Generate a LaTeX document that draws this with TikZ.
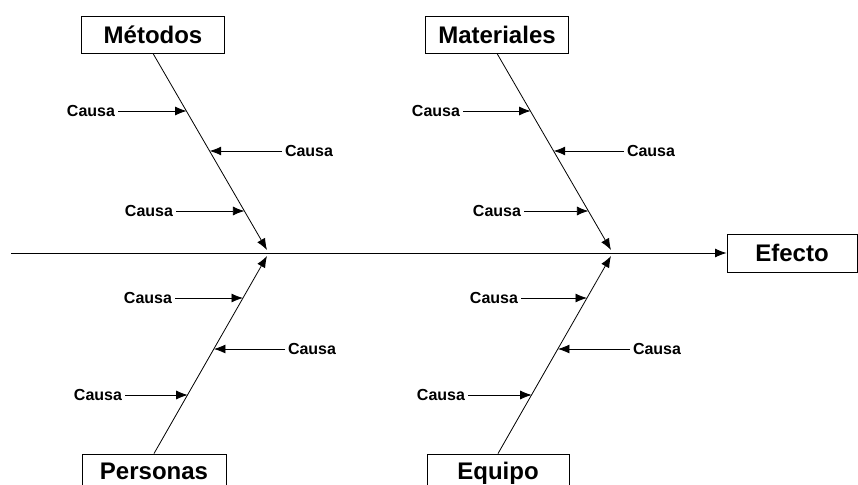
\documentclass[tikz,border=0pt]{standalone}
\usepackage{fontspec}
\setmainfont{Liberation Sans}
\usetikzlibrary{arrows.meta}
\tikzset{
  arr/.style={line width=0.8pt, -{Latex[length=11.5pt,width=9pt]}},
  bigbox/.style={draw=black, line width=0.9pt, fill=white, font=\bfseries\fontsize{24}{28}\selectfont,
    minimum width=143pt, minimum height=37pt, inner sep=0pt, text height=17.2pt, text depth=0pt},
  causa/.style={font=\bfseries\fontsize{16}{19}\selectfont, inner sep=0pt, outer sep=3pt, text height=11.5pt, text depth=0pt}
}
\begin{document}
\begin{tikzpicture}[x=1pt,y=-1pt]
\useasboundingbox (0,0) rectangle (858,484);
\clip (0,0) rectangle (858,484);
% boxes
\node[bigbox] (met) at (153,34.5) {Métodos};
\node[bigbox] (mat) at (497,34.5) {Materiales};
\node[bigbox, minimum width=144pt, text depth=3pt] (per) at (154,472.5) {Personas};
\node[bigbox, minimum width=142pt, text depth=3pt] (equ) at (498,472.5) {Equipo};
\node[bigbox, minimum width=130pt, minimum height=38pt] (efe) at (792,253) {Efecto};
% spine
\coordinate (start) at (11,253);
\draw[arr] (start) -- (efe.west);
% bone ends
\coordinate (j1) at (267,250);
\coordinate (j2) at (611,250);
\coordinate (j3) at (267,256);
\coordinate (j4) at (611,256);
\draw[arr] (met.south) -- (j1);
\draw[arr] (mat.south) -- (j2);
\draw[arr] (per.north) -- (j3);
\draw[arr] (equ.north) -- (j4);
% tips on bones
\coordinate (t11) at (186.6,111);
\coordinate (t12) at (209.7,151);
\coordinate (t13) at (244.4,211);
\coordinate (t21) at (530.6,111);
\coordinate (t22) at (553.7,151);
\coordinate (t23) at (588.4,211);
\coordinate (t31) at (243.0,298);
\coordinate (t32) at (213.9,349);
\coordinate (t33) at (187.7,395);
\coordinate (t41) at (587.0,298);
\coordinate (t42) at (557.9,349);
\coordinate (t43) at (531.7,395);
% cause labels
\node[causa, anchor=east] (c11) at (118,111) {Causa};
\node[causa, anchor=west] (c12) at (282,151) {Causa};
\node[causa, anchor=east] (c13) at (176,211) {Causa};
\node[causa, anchor=east] (c21) at (463,111) {Causa};
\node[causa, anchor=west] (c22) at (624,151) {Causa};
\node[causa, anchor=east] (c23) at (524,211) {Causa};
\node[causa, anchor=east] (c31) at (175,298) {Causa};
\node[causa, anchor=west] (c32) at (285,349) {Causa};
\node[causa, anchor=east] (c33) at (125,395) {Causa};
\node[causa, anchor=east] (c41) at (521,298) {Causa};
\node[causa, anchor=west] (c42) at (630,349) {Causa};
\node[causa, anchor=east] (c43) at (468,395) {Causa};
% cause arrows
\draw[arr] (c11.east) -- (t11);
\draw[arr] (c12.west) -- (t12);
\draw[arr] (c13.east) -- (t13);
\draw[arr] (c21.east) -- (t21);
\draw[arr] (c22.west) -- (t22);
\draw[arr] (c23.east) -- (t23);
\draw[arr] (c31.east) -- (t31);
\draw[arr] (c32.west) -- (t32);
\draw[arr] (c33.east) -- (t33);
\draw[arr] (c41.east) -- (t41);
\draw[arr] (c42.west) -- (t42);
\draw[arr] (c43.east) -- (t43);
\end{tikzpicture}
\end{document}
